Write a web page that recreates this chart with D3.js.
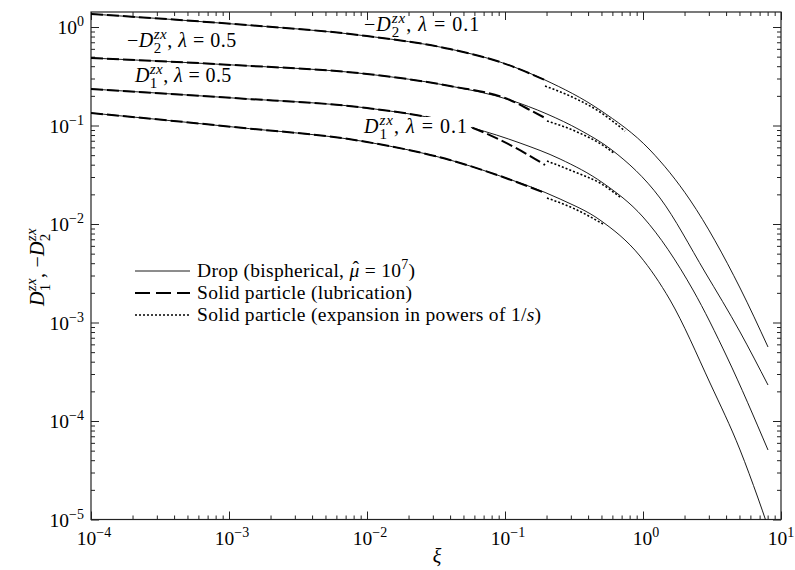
<!DOCTYPE html>
<meta charset="utf-8">
<head>
<script src="https://cdn.jsdelivr.net/npm/d3@7"></script>
<style>
  body { margin: 0; background: #fff; }
  svg text { fill: #000; white-space: pre; }
</style>
</head>
<body>
<div id="chart"></div>
<script>
// values, [xi, value]
// -D2, lambda = 0.1
const dropM2_01 = [[1e-4,1.355],[1.069e-3,1.073],[0.01,0.810],[0.0399,0.598],[0.0921,0.441],[0.195,0.2897],[0.4875,0.1437],[1.124,0.05638],[2.192,0.01753],[5.05,0.00224],[8.05,5.64e-4]];
const lubM2_01  = [[1e-4,1.355],[1.069e-3,1.073],[0.01,0.810],[0.0399,0.598],[0.0921,0.441],[0.195,0.2897]];
const expM2_01  = [[0.195,0.2518],[0.2958,0.1993],[0.4875,0.1371],[0.741,0.0879]];
// -D2, lambda = 0.5
const dropM2_05 = [[1e-4,0.4844],[1.069e-3,0.4113],[0.01,0.3333],[0.0399,0.2518],[0.1086,0.1815],[0.2014,0.1308],[0.349,0.0900],[0.5953,0.05638],[1.328,0.01837],[2.812,0.003256],[5.05,8.01e-4],[8.05,2.32e-4]];
const lubM2_05  = [[1e-4,0.4844],[1.069e-3,0.4113],[0.01,0.3333],[0.0399,0.2518],[0.1086,0.1815],[0.1517,0.1437],[0.2014,0.1164]];
const expM2_05  = [[0.2014,0.1111],[0.3213,0.0879],[0.548,0.0591],[0.6263,0.0514]];
// D1, lambda = 0.5
const dropD1_05 = [[1e-4,0.2348],[1.069e-3,0.1902],[0.01,0.1505],[0.0321,0.1164],[0.0586,0.0943],[0.1285,0.0664],[0.2506,0.0457],[0.5128,0.02608],[1.0,0.01178],[2.303,0.002138],[4.06,4.465e-4],[8.05,5.08e-5]];
const lubD1_05  = [[1e-4,0.2348],[1.069e-3,0.1902],[0.01,0.1505],[0.0321,0.1164],[0.0586,0.0943],[0.0921,0.0713],[0.1396,0.05257],[0.195,0.03972]];
const expD1_05  = [[0.2014,0.04361],[0.3213,0.03372],[0.4875,0.02608],[0.6808,0.0188]];
// D1, lambda = 0.1
const dropD1_01 = [[1e-4,0.1339],[1.069e-3,0.0966],[0.01,0.0680],[0.0399,0.04465],[0.0921,0.03071],[0.2506,0.01794],[0.4875,0.01098],[0.9505,0.004733],[1.570,0.001692],[3.06,2.43e-4],[5.05,5.08e-5],[6.81,1.653e-5],[9.05,5.14e-6]];
const lubD1_01  = [[1e-4,0.1339],[1.069e-3,0.0966],[0.01,0.0680],[0.0399,0.04465],[0.0921,0.03071],[0.195,0.02064]];
const expD1_01  = [[0.2014,0.01837],[0.3213,0.0142],[0.5128,0.0100]];

const xTickExps = [-4, -3, -2, -1, 0, 1];
const yTickExps = [-5, -4, -3, -2, -1, 0];
const legendLabels = ["Drop", "Solid particle (lubrication)", "Solid particle (expansion in powers of 1/"];

// layout
const W = 795, H = 570;
const pLeft = 91, pRight = 781, pTop = 12, pBottom = 519.5;
const FONT = "'Liberation Serif', 'DejaVu Serif', serif";

const svg = d3.select("#chart").append("svg")
    .attr("width", W).attr("height", H)
    .attr("font-family", FONT);

const x = d3.scaleLog().domain([1e-4, 10]).range([pLeft, pRight]);
const y = d3.scaleLog().domain([1e-5, 1.42]).range([pBottom, pTop]);

// ticks (inward on all four sides)
const majorX = xTickExps.map(e => Math.pow(10, e));
const minorX = x.ticks().filter(v => !majorX.some(m => Math.abs(m - v) / m < 1e-6));
const majorY = yTickExps.map(e => Math.pow(10, e));
const minorY = d3.scaleLog().domain([1e-5, 10]).ticks()
    .filter(v => v <= 1.42 && !majorY.some(m => Math.abs(m - v) / m < 1e-6));

function tickAxis(axisFn, scale, vals, size, tr) {
  const g = svg.append("g").attr("transform", tr)
    .call(axisFn(scale).tickValues(vals).tickSize(-size).tickFormat(""));
  g.select(".domain").remove();
  g.selectAll("line").attr("stroke", "#222");
}
[[majorX, 8], [minorX, 4]].forEach(([v, s]) => {
  tickAxis(d3.axisBottom, x, v, s, `translate(0,${pBottom})`);
  tickAxis(d3.axisTop, x, v, s, `translate(0,${pTop})`);
});
[[majorY, 8], [minorY, 4]].forEach(([v, s]) => {
  tickAxis(d3.axisLeft, y, v, s, `translate(${pLeft},0)`);
  tickAxis(d3.axisRight, y, v, s, `translate(${pRight},0)`);
});

svg.append("rect")
  .attr("x", pLeft).attr("y", pTop)
  .attr("width", pRight - pLeft).attr("height", pBottom - pTop)
  .attr("fill", "none").attr("stroke", "#222").attr("stroke-width", 1.2);

function txt(parent) {
  return parent.append("text").attr("font-family", FONT);
}

// tick labels
function pow10(t, e) {
  t.append("tspan").text("10");
  t.append("tspan").attr("font-size", 14).attr("dy", -8)
    .text(e < 0 ? "\u2212" + (-e) : String(e));
}
xTickExps.forEach(e => {
  const t = txt(svg).attr("x", x(Math.pow(10, e)) + (e === 1 ? 0 : 3)).attr("y", 545)
    .attr("font-size", 19.5).attr("text-anchor", "middle");
  pow10(t, e);
});
yTickExps.forEach(e => {
  const t = txt(svg).attr("x", 84).attr("y", y(Math.pow(10, e)) + 7)
    .attr("font-size", 19.5).attr("text-anchor", "end");
  pow10(t, e);
});

// curves
const line = d3.line().x(d => x(d[0])).y(d => y(d[1])).curve(d3.curveMonotoneX);
svg.append("clipPath").attr("id", "clip").append("rect")
  .attr("x", pLeft).attr("y", pTop).attr("width", pRight - pLeft).attr("height", pBottom - pTop);
const plot = svg.append("g").attr("clip-path", "url(#clip)");

const styles = {
  drop: { w: 0.9, dash: null },
  lub:  { w: 2.0, dash: "12,4" },
  exp:  { w: 1.6, dash: "2,2" }
};
const series = [
  ["drop", dropM2_01], ["drop", dropM2_05], ["drop", dropD1_05], ["drop", dropD1_01],
  ["lub", lubM2_01], ["lub", lubM2_05], ["lub", lubD1_05], ["lub", lubD1_01],
  ["exp", expM2_01], ["exp", expM2_05], ["exp", expD1_05], ["exp", expD1_01]
];
series.forEach(([k, d]) => {
  plot.append("path").datum(d).attr("d", line)
    .attr("fill", "none").attr("stroke", "#000")
    .attr("stroke-width", styles[k].w)
    .attr("stroke-dasharray", styles[k].dash);
});

// D^{zx}_n with stacked scripts
function addD(t, sub, fs) {
  t.append("tspan").attr("font-style", "italic").text("D");
  const sp = t.append("tspan").attr("font-style", "italic")
    .attr("font-size", fs * 0.75).attr("dy", -fs * 0.4).text("zx");
  const w1 = sp.node().getComputedTextLength();
  const sb = t.append("tspan").attr("font-size", fs * 0.75)
    .attr("dx", -w1).attr("dy", fs * 0.72).text(sub);
  const w2 = sb.node().getComputedTextLength();
  return { dx: w1 - w2, dy: -fs * 0.32 };
}
function curveLabel(px, py, neg, sub, lam, ls, cut) {
  const labels = svg.append("g");
  const t = txt(labels).attr("x", px).attr("y", py).attr("font-size", 20)
    .attr("letter-spacing", ls);
  if (neg) t.append("tspan").text("\u2212");
  const r = addD(t, sub, 20);
  t.append("tspan").attr("dx", r.dx).attr("dy", r.dy).text(", ");
  t.append("tspan").attr("font-style", "italic").text("\u03bb");
  t.append("tspan").text(" = " + lam);
  if (cut) {
    // the curve under this label is interrupted, as in the original figure
    const n = t.node();
    const i = n.textContent.indexOf("\u03bb");
    const x0 = n.getStartPositionOfChar(i).x - 6;
    const bb = n.getBBox();
    labels.insert("rect", "text")
      .attr("x", x0).attr("y", py - 16)
      .attr("width", bb.x + bb.width + 3 - x0).attr("height", 18)
      .attr("fill", "#fff");
  }
}
curveLabel(127, 47, true, "2", "0.5", 0.5, false);
curveLabel(135, 82, false, "1", "0.5", 0.4, false);
curveLabel(364, 31, true, "2", "0.1", 1.0, false);
curveLabel(364, 133, false, "1", "0.1", 1.0, true);

// axis titles
const yl = txt(svg).attr("transform", "translate(44,267) rotate(-90)")
  .attr("font-size", 20).attr("letter-spacing", 0.3).attr("text-anchor", "middle");
{
  const r1 = addD(yl, "1", 20);
  yl.append("tspan").attr("dx", r1.dx).attr("dy", r1.dy).text(", \u2212");
  const r2 = addD(yl, "2", 20);
  yl.append("tspan").attr("dx", r2.dx).attr("dy", r2.dy).text("");
}
txt(svg).attr("x", 437).attr("y", 563).attr("font-size", 20)
  .attr("font-style", "italic").attr("text-anchor", "middle").text("\u03be");

// legend
const legY = [271, 293, 315];
const lg = svg.append("g");
["drop", "lub", "exp"].forEach((k, i) => {
  lg.append("line").attr("x1", 135).attr("x2", 190).attr("y1", legY[i]).attr("y2", legY[i])
    .attr("stroke", "#000").attr("stroke-width", k === "drop" ? 0.9 : styles[k].w)
    .attr("stroke-dasharray", k === "lub" ? "15,6" : styles[k].dash);
  const t = txt(lg).attr("x", 197).attr("y", legY[i] + 6).attr("font-size", 19.5)
    .attr("letter-spacing", 0.3);
  if (i === 0) {
    t.append("tspan").text(legendLabels[0] + " (bispherical, ");
    const mu = t.append("tspan").attr("font-style", "italic").text("\u03bc");
    const wMu = mu.node().getComputedTextLength();
    const hat = t.append("tspan").attr("dy", -3).text("\u02c6");
    const wHat = hat.node().getComputedTextLength();
    const s = 1.5;
    hat.attr("dx", -wMu / 2 + s - wHat / 2);
    t.append("tspan").attr("dx", wMu / 2 - s - wHat / 2).attr("dy", 3).text(" = 10");
    t.append("tspan").attr("font-size", 14).attr("dy", -8).text("7");
    t.append("tspan").attr("dy", 8).text(")");
  } else if (i === 1) {
    t.text(legendLabels[1]);
  } else {
    t.append("tspan").text(legendLabels[2]);
    t.append("tspan").attr("font-style", "italic").text("s");
    t.append("tspan").text(")");
  }
});
</script>
</body>
